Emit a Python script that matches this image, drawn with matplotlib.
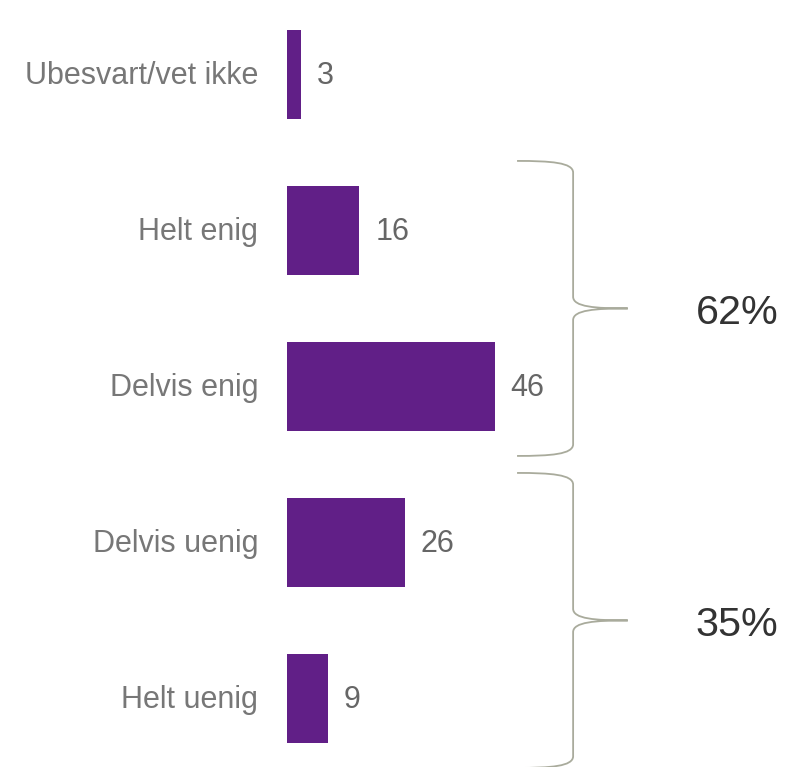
import matplotlib
matplotlib.use("Agg")
import matplotlib.pyplot as plt
from matplotlib.path import Path
from matplotlib.patches import PathPatch

plt.rcParams['font.family'] = ['Liberation Sans', 'DejaVu Sans']

categories = ['Ubesvart/vet ikke', 'Helt enig', 'Delvis enig', 'Delvis uenig', 'Helt uenig']
values = [3, 16, 46, 26, 9]
groups = [(1, 2, '62%'), (3, 4, '35%')]

bar_color = '#611f87'
brace_color = '#a9ab9c'

fig = plt.figure(figsize=(7.85, 7.67), dpi=100)
ax = fig.add_axes([287 / 785, 0, 1 - 287 / 785, 1])
ax.set_xlim(0, 498 / 4.52)
ax.set_ylim(4.439, -0.4776)
ax.axis('off')

pos = list(range(len(categories)))
ax.barh(pos, values, height=0.57, color=bar_color)

for p, v, c in zip(pos, values, categories):
    ax.text(v + 3.5, p + 0.01, str(v), va='center', ha='left', fontsize=22, color='#666666')
    ax.text(-6.4, p + 0.01, c, va='center', ha='right', fontsize=22, color='#777777')

def brace(ax, top, bot, x0=50.9, xm=63.3, xt=75.4, r=0.075):
    mid = (top + bot) / 2
    verts = [
        (x0, top),
        (x0 + (xm - x0) * 0.6, top), (xm, top + 0.01), (xm, top + r),
        (xm, mid - r),
        (xm, mid - 0.01), (xm + (xt - xm) * 0.4, mid), (xt, mid),
        (xm + (xt - xm) * 0.4, mid), (xm, mid + 0.01), (xm, mid + r),
        (xm, bot - r),
        (xm, bot - 0.01), (x0 + (xm - x0) * 0.6, bot), (x0, bot),
    ]
    codes = [Path.MOVETO] + [Path.CURVE4] * 3 + [Path.LINETO] + [Path.CURVE4] * 6 + \
            [Path.LINETO] + [Path.CURVE4] * 3
    ax.add_patch(PathPatch(Path(verts, codes), fill=False, edgecolor=brace_color,
                           linewidth=1.3, clip_on=False))
    return xt, mid

for first, last, label in groups:
    xt, mid = brace(ax, first - 0.5 + 0.054, last + 0.5 - 0.055)
    ax.text(xt + 15.0, mid + 0.03, label, va='center', ha='left', fontsize=29.7, color='#333333')

fig.savefig('out.png', dpi=100)
